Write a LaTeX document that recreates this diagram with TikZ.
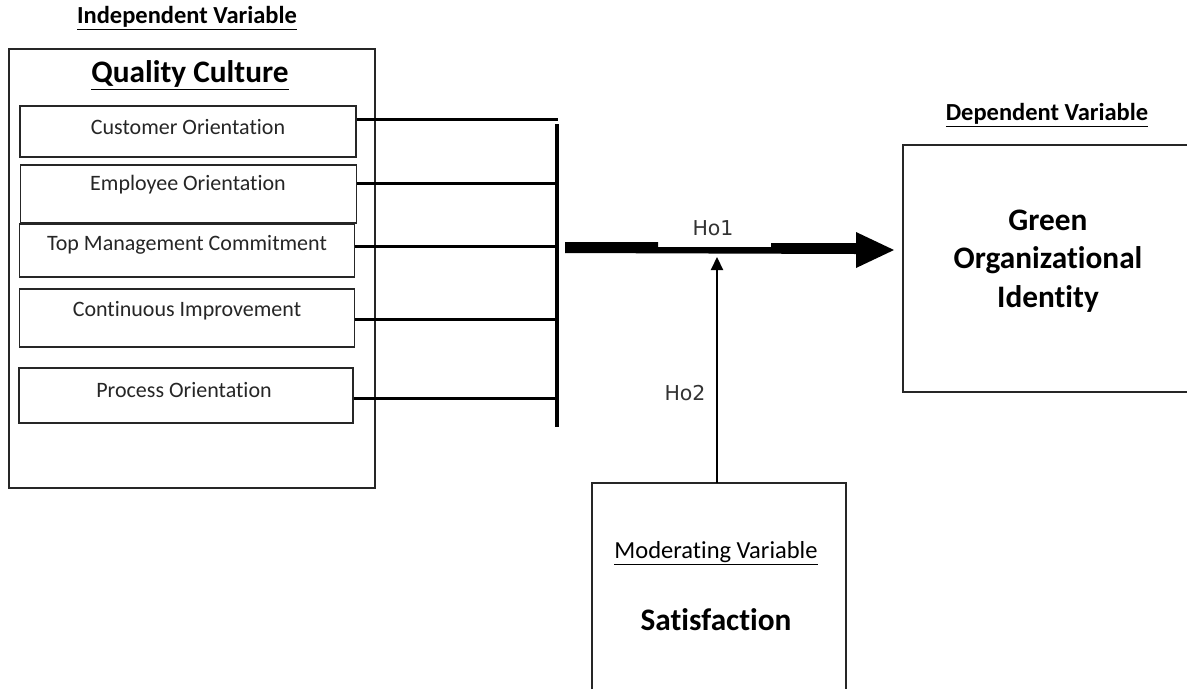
\documentclass[tikz,border=0pt]{standalone}
\usepackage{fontspec}
\setmainfont{Carlito}[Ligatures=NoCommon]
\newfontfamily\hofont{DejaVu Sans}
\usetikzlibrary{arrows.meta}
\tikzset{
  frame/.style={draw=black!85, line width=1.4pt},
  ibox/.style={draw=black!85, line width=1.4pt, minimum height=52pt, inner sep=0pt},
  itext/.style={font=\fontsize{22}{26}\selectfont, text=black!85, inner sep=0pt},
  head/.style={font=\fontsize{24.5}{28}\selectfont\bfseries, inner sep=0pt},
  big/.style={font=\fontsize{31.3}{38.5}\selectfont\bfseries, inner sep=0pt, align=center},
  conn/.style={line width=3pt, black},
  bar/.style={line width=3.6pt, black},
  holab/.style={font=\hofont\fontsize{20.5}{24}\selectfont, text=black!80, inner sep=0pt},
}
\begin{document}
\begin{tikzpicture}[x=1pt,y=-1pt]
\useasboundingbox (0,0) rectangle (1187,689);
\fill[white] (0,0) rectangle (1187,689);

% Independent variable block
\node[head] (indep) at (187,18) {\underline{Independent Variable}};
\node[frame, minimum width=366pt, minimum height=439pt, inner sep=0pt] (qc) at (192,268.5) {};
\node[big] (qct) at (190,75) {\underline{Quality Culture}};

\node[ibox, minimum width=336pt, minimum height=51pt] (b1) at (188,131.5) {};
\node[itext] (t1) at (188,127) {Customer Orientation};
\node[ibox, minimum width=336pt, minimum height=58pt] (b2) at (188.5,194) {};
\node[itext] (t2) at (188,185) {Employee Orientation};
\node[ibox, minimum width=335pt, minimum height=53pt] (b3) at (187,250.5) {};
\node[itext] (t3) at (187,245) {Top Management Commitment};
\node[ibox, minimum width=335pt, minimum height=58pt] (b4) at (187,318) {};
\node[itext] (t4) at (187,311) {Continuous Improvement};
\node[ibox, minimum width=334pt, minimum height=55pt] (b5) at (186,395.5) {};
\node[itext] (t5) at (184,390) {Process Orientation};

% connectors to the bar
\coordinate (c1) at (558,119);
\coordinate (c2) at (557,183);
\coordinate (c3) at (557,246);
\coordinate (c4) at (557,319);
\coordinate (c5) at (557,398);
\draw[conn] (b1.east |- c1) -- (c1);
\draw[conn] (b2.east |- c2) -- (c2);
\draw[conn] (b3.east |- c3) -- (c3);
\draw[conn] (b4.east |- c4) -- (c4);
\draw[conn] (b5.east |- c5) -- (c5);
\coordinate (bartop) at (557,124);
\coordinate (barbot) at (557,427);
\draw[bar] (bartop) -- (barbot);

% main arrow Ho1
\coordinate (a0) at (565,242);
\fill[black] (a0) -- (658,242) -- (658,247) -- (771,247) -- (771,243) -- (856,243)
  -- (856,232) -- (894,250) -- (856,268) -- (856,254) -- (565,253) -- cycle;
\node[holab] (ho1) at (713,228) {Ho1};

% dependent variable
\node[head] (dep) at (1047,115) {\underline{Dependent Variable}};
\coordinate (g1) at (1187,145);
\coordinate (g2) at (903,145);
\coordinate (g3) at (903,392);
\coordinate (g4) at (1187,392);
\draw[frame] (g1) -- (g2) -- (g3) -- (g4);
\node[big] (green) at (1048,261) {Green\\[0pt]Organizational\\[0pt]Identity};

% moderating variable
\coordinate (s1) at (592,689);
\coordinate (s2) at (592,483);
\coordinate (s3) at (846,483);
\coordinate (s4) at (846,689);
\draw[frame] (s1) -- (s2) -- (s3) -- (s4);
\coordinate (satTop) at (717,483);
\coordinate (arrTip) at (717,257);
\draw[line width=2.2pt, -{Triangle[width=12pt,length=13pt]}] (satTop) -- (arrTip);
\node[holab] (ho2) at (685,393) {Ho2};
\node[font=\fontsize{24.5}{28}\selectfont, inner sep=0pt] (mod) at (716,553) {\underline{Moderating Variable}};
\node[big] (sat) at (716,620) {Satisfaction};
\end{tikzpicture}
\end{document}
